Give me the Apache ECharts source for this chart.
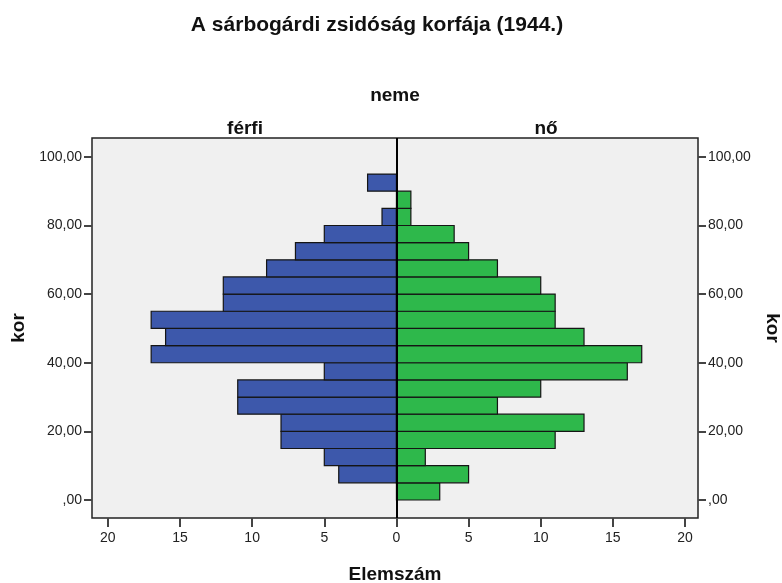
<!DOCTYPE html>
<html>
<head>
<meta charset="utf-8">
<script src="https://cdn.jsdelivr.net/npm/echarts@6/dist/echarts.min.js"></script>
<style>
  html, body { margin: 0; padding: 0; background: #fff; }
  #chart { width: 782px; height: 583px; }
</style>
</head>
<body>
<div id="chart"></div>
<script>
// korcsoportok alsó határa (5 éves sávok)
const binStart = [0, 5, 10, 15, 20, 25, 30, 35, 40, 45, 50, 55, 60, 65, 70, 75, 80, 85, 90, 95]
const binWidth = 5
// férfi elemszám
const maleCounts = [0, 4, 5, 8, 8, 11, 11, 5, 17, 16, 17, 12, 12, 9, 7, 5, 1, 0, 2, 0]
// női elemszám
const femaleCounts = [3, 5, 2, 11, 13, 7, 10, 16, 17, 13, 11, 11, 10, 7, 5, 4, 1, 1, 0, 0]
// tengely feliratok
const xTicks = [-20, -15, -10, -5, 0, 5, 10, 15, 20]
const yTicks = [0, 20, 40, 60, 80, 100]

const font = 'Liberation Sans, Arial, sans-serif'

// [alsó, felső, érték] – a férfi oldal negatív irányba megy
const maleData = binStart.map((b, i) => [b, b + binWidth, -maleCounts[i]])
const femaleData = binStart.map((b, i) => [b, b + binWidth, femaleCounts[i]])

function barRenderer (color) {
  return function (params, api) {
    const v = api.value(2)
    if (!v) return null
    const p0 = api.coord([0, api.value(0)])
    const p1 = api.coord([v, api.value(1)])
    return {
      type: 'rect',
      shape: {
        x: Math.min(p0[0], p1[0]),
        y: Math.min(p0[1], p1[1]),
        width: Math.abs(p1[0] - p0[0]),
        height: Math.abs(p1[1] - p0[1])
      },
      style: { fill: color, stroke: '#151515', lineWidth: 1.2 }
    }
  }
}

function ageLabel (v) {
  if (v === 0) return ',00'
  return v.toFixed(2).replace('.', ',')
}

const yAxisBase = {
  type: 'value',
  min: -5.25,
  max: 105.5,
  splitLine: { show: false },
  axisLine: { show: false, onZero: false },
  axisTick: {
    show: true,
    customValues: yTicks,
    length: 8,
    lineStyle: { color: '#444', width: 2 }
  },
  axisLabel: {
    customValues: yTicks,
    formatter: ageLabel,
    color: '#222',
    fontSize: 14,
    fontFamily: font,
    margin: 10
  },
  name: 'kor',
  nameLocation: 'middle',
  nameTextStyle: { fontSize: 19, fontWeight: 'bold', color: '#111', fontFamily: font }
}

let myChart = echarts.init(document.getElementById('chart'))
myChart.setOption({
  animation: false,
  backgroundColor: '#ffffff',
  title: {
    text: 'A sárbogárdi zsidóság korfája (1944.)',
    left: 372,
    textAlign: 'center',
    top: 10,
    textStyle: { fontSize: 21, fontWeight: 'bold', color: '#111', fontFamily: font }
  },
  graphic: [
    { type: 'text', x: 395, y: 96, style: { text: 'neme', font: 'bold 19px ' + font, fill: '#111', textAlign: 'center', textVerticalAlign: 'middle' } },
    { type: 'text', x: 245, y: 129, style: { text: 'férfi', font: 'bold 19px ' + font, fill: '#111', textAlign: 'center', textVerticalAlign: 'middle' } },
    { type: 'text', x: 546, y: 129, style: { text: 'nő', font: 'bold 19px ' + font, fill: '#111', textAlign: 'center', textVerticalAlign: 'middle' } }
  ],
  grid: {
    left: 92,
    right: 84,
    top: 138,
    bottom: 65,
    outerBoundsMode: 'none',
    show: true,
    backgroundColor: '#f0f0f0',
    borderColor: '#222',
    borderWidth: 1.5
  },
  xAxis: {
    type: 'value',
    min: -21.1,
    max: 20.9,
    splitLine: { show: false },
    axisLine: { show: false, onZero: false },
    axisTick: {
      show: true,
      customValues: xTicks,
      length: 9,
      lineStyle: { color: '#444', width: 2 }
    },
    axisLabel: {
      customValues: xTicks,
      formatter: v => String(Math.abs(v)),
      color: '#222',
      fontSize: 14,
      fontFamily: font,
      margin: 13
    },
    name: 'Elemszám',
    nameLocation: 'middle',
    nameGap: 47,
    nameTextStyle: { fontSize: 19, fontWeight: 'bold', color: '#111', fontFamily: font }
  },
  yAxis: [
    Object.assign({}, yAxisBase, { position: 'left', nameGap: 64, nameRotate: 90 }),
    Object.assign({}, yAxisBase, { position: 'right', nameGap: 65, nameRotate: -90 })
  ],
  series: [
    {
      name: 'férfi',
      type: 'custom',
      renderItem: barRenderer('#3d58ab'),
      encode: { x: 2, y: [0, 1] },
      data: maleData,
      markLine: {
        silent: true,
        symbol: 'none',
        label: { show: false },
        lineStyle: { color: '#000', width: 2, type: 'solid' },
        data: [{ xAxis: 0 }]
      }
    },
    {
      name: 'nő',
      type: 'custom',
      renderItem: barRenderer('#2eb84b'),
      encode: { x: 2, y: [0, 1] },
      data: femaleData
    }
  ]
})
</script>
</body>
</html>
